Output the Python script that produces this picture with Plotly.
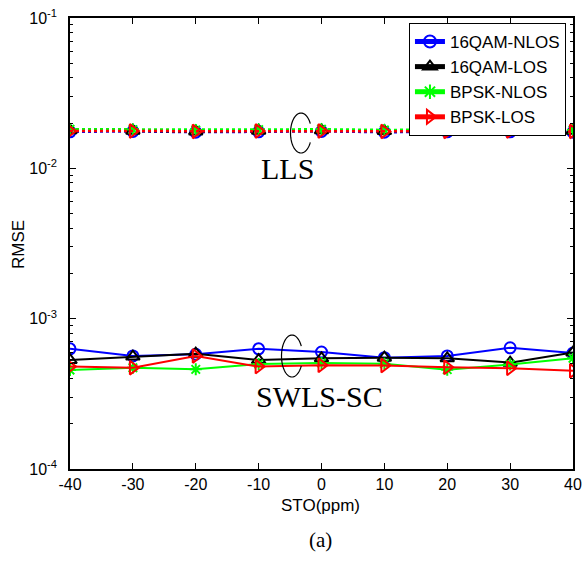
import numpy as np
import plotly.graph_objects as go

# ---------------- data ----------------
sto = [-40, -30, -20, -10, 0, 10, 20, 30, 40]

swls_16qam_nlos = [6.3e-4, 5.65e-4, 5.8e-4, 6.3e-4, 6.0e-4, 5.5e-4, 5.65e-4, 6.4e-4, 5.9e-4]
swls_16qam_los = [5.3e-4, 5.6e-4, 5.85e-4, 5.3e-4, 5.45e-4, 5.5e-4, 5.45e-4, 5.1e-4, 5.95e-4]
swls_bpsk_nlos = [4.55e-4, 4.72e-4, 4.6e-4, 5.0e-4, 5.08e-4, 5.02e-4, 4.58e-4, 4.95e-4, 5.45e-4]
swls_bpsk_los = [4.8e-4, 4.72e-4, 5.65e-4, 4.8e-4, 4.9e-4, 4.88e-4, 4.75e-4, 4.68e-4, 4.5e-4]

lls_16qam_nlos = [0.0175, 0.0176, 0.0174, 0.0175, 0.0176, 0.0174, 0.0175, 0.0175, 0.0174]
lls_16qam_los = [0.0179, 0.0178, 0.0176, 0.0178, 0.0179, 0.0177, 0.0177, 0.0176, 0.0178]
lls_bpsk_nlos = [0.0182, 0.0181, 0.0180, 0.0181, 0.0182, 0.0180, 0.0181, 0.0180, 0.0180]
lls_bpsk_los = [0.0177, 0.0177, 0.0176, 0.0177, 0.0177, 0.0176, 0.0176, 0.0177, 0.0176]

series_names = ["16QAM-NLOS", "16QAM-LOS", "BPSK-NLOS", "BPSK-LOS"]
y_tickvals = [1e-4, 1e-3, 1e-2, 1e-1]
y_ticktext = ["10<sup>-4</sup>", "10<sup>-3</sup>", "10<sup>-2</sup>", "10<sup>-1</sup>"]
x_tickvals = sto
x_ticktext = ["-40", "-30", "-20", "-10", "0", "10", "20", "30", "40"]

# ---------------- styling ----------------
colors = ["#0000ff", "#000000", "#00ff00", "#ff0000"]
symbols = ["circle-open", "triangle-up-open", "asterisk-open", "triangle-right-open"]
msizes = [11, 12, 10, 12]

W, H = 583, 561
ML, MR, MT, MB = 70, 10, 18, 92
PW, PH = W - ML - MR, H - MT - MB

fig = go.Figure()

swls = [swls_16qam_nlos, swls_16qam_los, swls_bpsk_nlos, swls_bpsk_los]
lls = [lls_16qam_nlos, lls_16qam_los, lls_bpsk_nlos, lls_bpsk_los]

for i in range(4):
    fig.add_trace(go.Scatter(
        x=sto, y=lls[i], mode="lines+markers", showlegend=False,
        line=dict(color=colors[i], width=2.5, dash="dot"),
        marker=dict(symbol=symbols[i], size=msizes[i], color=colors[i],
                    line=dict(color=colors[i], width=2)),
    ))

for i in range(4):
    fig.add_trace(go.Scatter(
        x=sto, y=swls[i], mode="lines+markers", name=series_names[i],
        line=dict(color=colors[i], width=2),
        marker=dict(symbol=symbols[i], size=msizes[i], color=colors[i],
                    line=dict(color=colors[i], width=2)),
    ))


def px2paper(px, py):
    return (px - ML) / PW, (H - MB - py) / PH


def arc_path(cx, cy, rx, ry, a0, a1, n=60):
    t = np.radians(np.linspace(a0, a1, n))
    pts = [px2paper(cx + rx * np.cos(a), cy - ry * np.sin(a)) for a in t]
    return "M " + " L ".join(f"{x:.5f},{y:.5f}" for x, y in pts)


for (cx, cy, rx, ry) in [(301, 133, 10.5, 20), (292, 356, 10.5, 21)]:
    fig.add_shape(type="path", xref="paper", yref="paper",
                  path=arc_path(cx, cy, rx, ry, 28, 332),
                  line=dict(color="black", width=1.2))


def ann(text, px, py, size, family, angle=0):
    x, y = px2paper(px, py)
    fig.add_annotation(text=text, x=x, y=y, xref="paper", yref="paper",
                       showarrow=False, xanchor="center", yanchor="middle",
                       textangle=angle,
                       font=dict(size=size, family=family, color="black"))


ann("LLS", 287, 168, 30, "Liberation Serif")
ann("SWLS-SC", 319, 396, 30, "Liberation Serif")
ann("(a)", 320, 540, 21, "Liberation Serif")
ann("STO(ppm)", 320, 505, 17, "Liberation Sans")
ann("RMSE", 18, 245, 17, "Liberation Sans", angle=-90)

axis_common = dict(showline=True, linecolor="black", linewidth=1.5, mirror="allticks",
                   ticks="inside", ticklen=6, tickcolor="black", tickwidth=1,
                   showgrid=False, zeroline=False,
                   tickfont=dict(family="Liberation Sans", size=16, color="black"))

fig.update_xaxes(range=[-40, 40], tickvals=x_tickvals, ticktext=x_ticktext,
                 ticklabelstandoff=0, **axis_common)
fig.update_yaxes(type="log", range=[-4, -1], tickvals=y_tickvals, ticktext=y_ticktext,
                 ticklabelstandoff=8,
                 minor=dict(ticks="inside", ticklen=3, tickcolor="black", dtick="D1",
                            showgrid=False),
                 **axis_common)

fig.update_layout(
    width=W, height=H,
    margin=dict(l=ML, r=MR, t=MT, b=MB, autoexpand=False),
    paper_bgcolor="white", plot_bgcolor="white",
    showlegend=True,
    legend=dict(x=0.986, y=0.989, xanchor="right", yanchor="top",
                bgcolor="white", bordercolor="black", borderwidth=1,
                font=dict(family="Liberation Sans", size=17, color="black"),
                tracegroupgap=0, itemsizing="constant"),
)

fig.write_html("out.html")
